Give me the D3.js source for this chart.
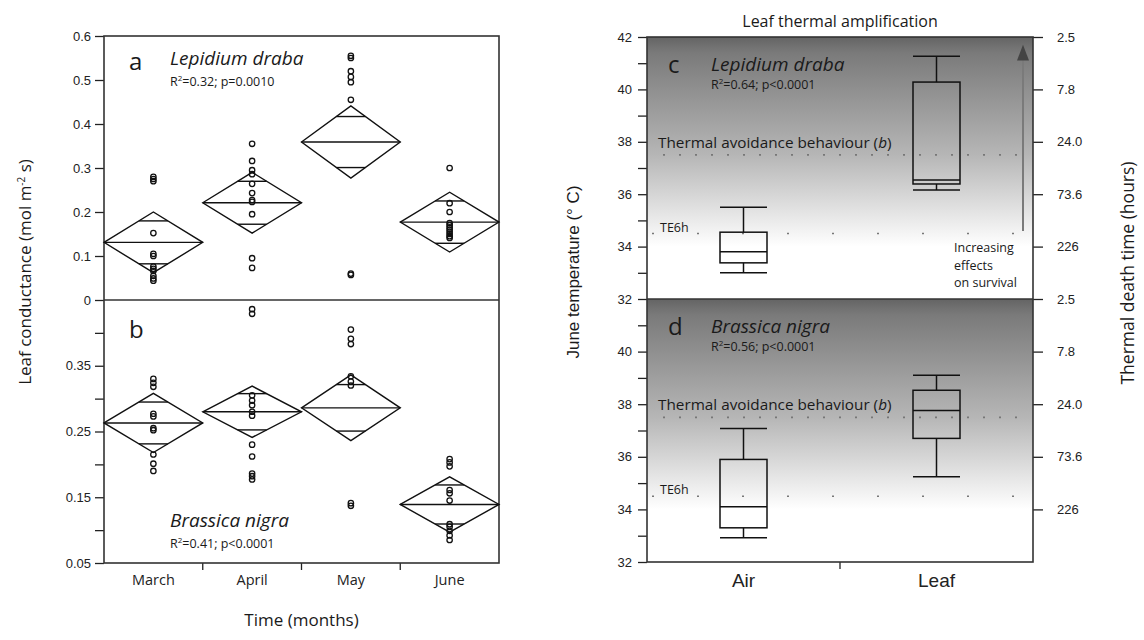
<!DOCTYPE html>
<html lang="en">
<head>
<meta charset="utf-8">
<title>Leaf conductance and leaf thermal amplification</title>
<script src="https://cdnjs.cloudflare.com/ajax/libs/d3/7.8.5/d3.min.js"></script>
<style>
  body { margin: 0; background: #fff; }
  svg { display: block; }
  .tick text { font-family: 'Liberation Sans', Arial, sans-serif; font-size: 13px; fill: #222; }
  .hum { font-family: 'Open Sans', 'Noto Sans', sans-serif; fill: #1a1a1a; }
  .helv { font-family: 'Liberation Sans', Arial, sans-serif; fill: #1a1a1a; }
</style>
</head>
<body>
<svg id="chart"></svg>
<script>
// ---- left panels: leaf conductance by month ----
var months = ["March", "April", "May", "June"];

// panel a, Lepidium draba (means diamonds: mean and 95% CI half width)
var aMean = [0.131, 0.221, 0.359, 0.177];
var aCI   = [0.069, 0.069, 0.082, 0.068];
var aPoints = [
  [0.28, 0.275, 0.27, 0.152, 0.105, 0.1, 0.076, 0.071, 0.066, 0.055, 0.049, 0.044],
  [0.355, 0.316, 0.295, 0.286, 0.264, 0.243, 0.227, 0.223, 0.195, 0.095, 0.073],
  [0.555, 0.55, 0.52, 0.507, 0.495, 0.455, 0.06, 0.057],
  [0.3, 0.22, 0.2, 0.175, 0.17, 0.165, 0.16, 0.155, 0.15, 0.145, 0.141]
];

// panel b, Brassica nigra
var bMean = [0.263, 0.28, 0.286, 0.139];
var bCI   = [0.045, 0.039, 0.05, 0.042];
var bPoints = [
  [0.33, 0.324, 0.318, 0.277, 0.273, 0.255, 0.252, 0.215, 0.201, 0.19],
  [0.436, 0.429, 0.305, 0.297, 0.29, 0.28, 0.274, 0.23, 0.212, 0.186, 0.182, 0.177],
  [0.405, 0.391, 0.383, 0.334, 0.326, 0.32, 0.141, 0.137],
  [0.208, 0.203, 0.197, 0.161, 0.156, 0.145, 0.109, 0.105, 0.099, 0.092, 0.085]
];

var aTicks = [0, 0.1, 0.2, 0.3, 0.4, 0.5, 0.6];
var bTicks = [0.05, 0.1, 0.15, 0.2, 0.25, 0.3, 0.35, 0.4];
var bTickLabels = ["0.05", "", "0.15", "", "0.25", "", "0.35", ""];

// ---- right panels: June temperature boxplots ----
var sources = ["Air", "Leaf"];
// [min, q1, median, q3, max]
var cBoxes = [[33.0, 33.38, 33.8, 34.55, 35.5], [36.16, 36.39, 36.54, 40.28, 41.27]];
var dBoxes = [[32.92, 33.3, 34.1, 35.9, 37.08], [35.24, 36.7, 37.76, 38.53, 39.1]];
var avoidanceTemp = 37.5;
var te6hTemp = 34.5;
var tempTicks = [32, 33, 34, 35, 36, 37, 38, 39, 40, 41, 42];
var deathTemps = [42, 40, 38, 36, 34];
var deathLabels = ["2.5", "7.8", "24.0", "73.6", "226"];

var width = 1144, height = 640;
var svg = d3.select("#chart").attr("width", width).attr("height", height);

// layout
var L = {left: 104, right: 499, top: 36, mid: 300, bottom: 563};
var R = {left: 647, right: 1033, top: 37, mid: 299, bottom: 562};

var xMonth = d3.scaleBand().domain(months).range([L.left, L.right]);
var yA = d3.scaleLinear().domain([0, 0.6]).range([L.mid, L.top]);
var yB = d3.scaleLinear().domain([0.05, 0.45]).range([L.bottom, L.mid]);

var xSrc = d3.scaleBand().domain(sources).range([R.left, R.right]);
var yC = d3.scaleLinear().domain([32, 42]).range([R.mid, R.top]);
var yD = d3.scaleLinear().domain([32, 42]).range([R.bottom, R.mid]);

function drawDiamonds(g, means, cis, points, y) {
  var hb = xMonth.bandwidth() / 2;
  months.forEach(function(m, i) {
    var cx = xMonth(m) + hb, mu = means[i], ci = cis[i];
    var pts = [[cx - hb, y(mu)], [cx, y(mu + ci)], [cx + hb, y(mu)], [cx, y(mu - ci)]];
    g.append("path")
      .attr("d", d3.line()(pts) + "Z")
      .attr("fill", "none").attr("stroke", "#111").attr("stroke-width", 1.4);
    // mean line
    g.append("line")
      .attr("x1", cx - hb).attr("x2", cx + hb)
      .attr("y1", y(mu)).attr("y2", y(mu))
      .attr("stroke", "#111").attr("stroke-width", 1.4);
    // overlap marks
    var d = ci / Math.SQRT2, w = hb * (1 - 1 / Math.SQRT2);
    [mu + d, mu - d].forEach(function(v) {
      g.append("line")
        .attr("x1", cx - w).attr("x2", cx + w)
        .attr("y1", y(v)).attr("y2", y(v))
        .attr("stroke", "#111").attr("stroke-width", 1.4);
    });
    g.selectAll(null)
      .data(points[i])
      .enter()
      .append("circle")
        .attr("cx", cx)
        .attr("cy", d => y(d))
        .attr("r", 2.7)
        .attr("fill", "none")
        .attr("stroke", "#111")
        .attr("stroke-width", 1.3);
  });
}

// ---------- left ----------
var left = svg.append("g");

left.append("g")
  .attr("transform", "translate(" + L.left + ",0)")
  .call(d3.axisLeft(yA).tickValues(aTicks).tickSize(9).tickPadding(4)
        .tickFormat(d => d === 0 ? "0" : d3.format(".1f")(d)));

left.append("g")
  .attr("transform", "translate(" + L.left + ",0)")
  .call(d3.axisLeft(yB).tickValues(bTicks).tickSize(9).tickPadding(4)
        .tickFormat((d, i) => bTickLabels[i]));

left.append("g")
  .attr("transform", "translate(0," + L.bottom + ")")
  .call(d3.axisBottom(xMonth).tickSize(0).tickPadding(12))
  .call(g => g.selectAll(".tick text")
      .attr("class", "hum").style("font-size", "14.5px").style("font-family", "'Open Sans', sans-serif"));

// separators between months on bottom
left.selectAll(".sep")
  .data(months.slice(1))
  .enter()
  .append("line")
    .attr("x1", d => xMonth(d)).attr("x2", d => xMonth(d))
    .attr("y1", L.bottom).attr("y2", L.bottom + 7)
    .attr("stroke", "#222").attr("stroke-width", 1.3);

left.selectAll(".domain").remove();
left.selectAll(".tick line").attr("stroke", "#222").attr("stroke-width", 1.3);

// frame
left.append("rect")
  .attr("x", L.left).attr("y", L.top)
  .attr("width", L.right - L.left).attr("height", L.bottom - L.top)
  .attr("fill", "none").attr("stroke", "#333").attr("stroke-width", 1.6);
left.append("line")
  .attr("x1", L.left).attr("x2", L.right).attr("y1", L.mid).attr("y2", L.mid)
  .attr("stroke", "#333").attr("stroke-width", 1.6);

drawDiamonds(left.append("g"), aMean, aCI, aPoints, yA);
drawDiamonds(left.append("g"), bMean, bCI, bPoints, yB);

// labels
left.append("text").attr("class", "hum").attr("x", 129).attr("y", 70)
  .style("font-size", "24px").text("a");
left.append("text").attr("class", "hum").attr("x", 170).attr("y", 65)
  .style("font-size", "19px").style("font-style", "italic").text("Lepidium draba");
left.append("text").attr("class", "hum").attr("x", 170).attr("y", 86)
  .style("font-size", "12.5px").html("R<tspan dy='-5' font-size='8'>2</tspan><tspan dy='5'>=0.32; p=0.0010</tspan>");

left.append("text").attr("class", "hum").attr("x", 129).attr("y", 338)
  .style("font-size", "24px").text("b");
left.append("text").attr("class", "hum").attr("x", 170).attr("y", 527)
  .style("font-size", "19px").style("font-style", "italic").text("Brassica nigra");
left.append("text").attr("class", "hum").attr("x", 170).attr("y", 548)
  .style("font-size", "12.5px").html("R<tspan dy='-5' font-size='8'>2</tspan><tspan dy='5'>=0.41; p&lt;0.0001</tspan>");

left.append("text").attr("class", "hum")
  .attr("x", (L.left + L.right) / 2).attr("y", 626)
  .attr("text-anchor", "middle").style("font-size", "17px")
  .text("Time (months)");

left.append("text").attr("class", "hum")
  .attr("transform", "translate(31,272) rotate(-90)")
  .attr("text-anchor", "middle").style("font-size", "17px")
  .html("Leaf conductance (mol m<tspan dy='-6' font-size='10'>-2</tspan><tspan dy='6'> s)</tspan>");

// ---------- right ----------
var right = svg.append("g");
var defs = svg.append("defs");
var grad = defs.append("linearGradient").attr("id", "shade")
  .attr("x1", 0).attr("x2", 0).attr("y1", 0).attr("y2", 1);
grad.append("stop").attr("offset", 0).attr("stop-color", "#646464");
grad.append("stop").attr("offset", 0.06).attr("stop-color", "#7a7a7a");
grad.append("stop").attr("offset", 0.45).attr("stop-color", "#b6b6b6");
grad.append("stop").attr("offset", 0.8).attr("stop-color", "#ffffff");
grad.append("stop").attr("offset", 1).attr("stop-color", "#ffffff");

[[R.top, R.mid], [R.mid, R.bottom]].forEach(function(p) {
  right.append("rect")
    .attr("x", R.left).attr("y", p[0])
    .attr("width", R.right - R.left).attr("height", p[1] - p[0])
    .attr("fill", "url(#shade)");
});

// left axes
right.append("g")
  .attr("transform", "translate(" + R.left + ",0)")
  .call(d3.axisLeft(yC).tickValues(tempTicks).tickSize(9).tickPadding(6)
        .tickFormat(d => d % 2 === 0 ? d : ""));
right.append("g")
  .attr("transform", "translate(" + R.left + ",0)")
  .call(d3.axisLeft(yD).tickValues(tempTicks.filter(d => d < 42)).tickSize(9).tickPadding(6)
        .tickFormat(d => d % 2 === 0 ? d : ""));

// right axes (thermal death time)
right.append("g")
  .attr("transform", "translate(" + R.right + ",0)")
  .call(d3.axisRight(yC).tickValues(deathTemps.concat([32])).tickSize(10).tickPadding(14)
        .tickFormat((d, i) => d === 32 ? "2.5" : deathLabels[i]));
right.append("g")
  .attr("transform", "translate(" + R.right + ",0)")
  .call(d3.axisRight(yD).tickValues(deathTemps.slice(1)).tickSize(10).tickPadding(14)
        .tickFormat((d, i) => deathLabels[i + 1]));

right.append("g")
  .attr("transform", "translate(0," + R.bottom + ")")
  .call(d3.axisBottom(xSrc).tickSize(0).tickPadding(12))
  .call(g => g.selectAll(".tick text").style("font-size", "19px"));

right.selectAll(".domain").remove();
right.selectAll(".tick line").attr("stroke", "#222").attr("stroke-width", 1.3);

right.append("line")
  .attr("x1", xSrc("Leaf")).attr("x2", xSrc("Leaf"))
  .attr("y1", R.bottom).attr("y2", R.bottom + 7)
  .attr("stroke", "#222").attr("stroke-width", 1.3);

// frame
right.append("rect")
  .attr("x", R.left).attr("y", R.top)
  .attr("width", R.right - R.left).attr("height", R.bottom - R.top)
  .attr("fill", "none").attr("stroke", "#333").attr("stroke-width", 1.6);
right.append("line")
  .attr("x1", R.left).attr("x2", R.right).attr("y1", R.mid).attr("y2", R.mid)
  .attr("stroke", "#333").attr("stroke-width", 1.6);

function drawPanel(g, boxes, y, letter, species, stat) {
  // threshold lines
  g.append("line")
    .attr("x1", R.left + 16).attr("x2", R.right - 10)
    .attr("y1", y(avoidanceTemp)).attr("y2", y(avoidanceTemp))
    .attr("stroke", "#777").attr("stroke-width", 1.6)
    .attr("stroke-dasharray", "2,14");
  g.append("line")
    .attr("x1", R.left + 5).attr("x2", R.right - 10)
    .attr("y1", y(te6hTemp)).attr("y2", y(te6hTemp))
    .attr("stroke", "#777").attr("stroke-width", 1.6)
    .attr("stroke-dasharray", "2,43");

  g.append("text").attr("class", "hum").attr("x", R.left + 11).attr("y", y(avoidanceTemp) - 7)
    .style("font-size", "15.3px")
    .html("Thermal avoidance behaviour (<tspan font-style='italic'>b</tspan>)");
  g.append("text").attr("class", "hum").attr("x", R.left + 13).attr("y", y(te6hTemp) - 2)
    .style("font-size", "12.5px").text("TE6h");

  var bw = 47;
  boxes.forEach(function(b, i) {
    var cx = xSrc(sources[i]) + xSrc.bandwidth() / 2;
    var bg = g.append("g").attr("stroke", "#111").attr("stroke-width", 1.5).attr("fill", "none");
    bg.append("line").attr("x1", cx).attr("x2", cx).attr("y1", y(b[0])).attr("y2", y(b[1]));
    bg.append("line").attr("x1", cx).attr("x2", cx).attr("y1", y(b[3])).attr("y2", y(b[4]));
    [b[0], b[4]].forEach(function(v) {
      bg.append("line").attr("x1", cx - bw / 2).attr("x2", cx + bw / 2).attr("y1", y(v)).attr("y2", y(v));
    });
    bg.append("rect").attr("x", cx - bw / 2).attr("y", y(b[3]))
      .attr("width", bw).attr("height", y(b[1]) - y(b[3]));
    bg.append("line").attr("x1", cx - bw / 2).attr("x2", cx + bw / 2).attr("y1", y(b[2])).attr("y2", y(b[2]));
  });

  g.append("text").attr("class", "hum").attr("x", 668).attr("y", y(41) + 10)
    .style("font-size", "24px").text(letter);
  g.append("text").attr("class", "hum").attr("x", 711).attr("y", y(41) + 8)
    .style("font-size", "19px").style("font-style", "italic").text(species);
  g.append("text").attr("class", "hum").attr("x", 711).attr("y", y(41) + 26)
    .style("font-size", "12.5px")
    .html("R<tspan dy='-5' font-size='8'>2</tspan><tspan dy='5'>=" + stat + "; p&lt;0.0001</tspan>");
}

drawPanel(right.append("g"), cBoxes, yC, "c", "Lepidium draba", "0.64");
drawPanel(right.append("g"), dBoxes, yD, "d", "Brassica nigra", "0.56");

// arrow: increasing effects on survival
right.append("line")
  .attr("x1", 1023).attr("x2", 1023).attr("y1", yC(34.6)).attr("y2", yC(41.3))
  .attr("stroke", "#7a7a7a").attr("stroke-width", 2);
right.append("path")
  .attr("d", d3.line()([[1017, yC(41.1)], [1023, yC(41.7)], [1029, yC(41.1)]]) + "Z")
  .attr("fill", "#444");
var note = right.append("text").attr("class", "hum").attr("x", 954).attr("y", 252)
  .style("font-size", "12.5px");
["Increasing", "effects", "on survival"].forEach(function(t, i) {
  note.append("tspan").attr("x", 954).attr("dy", i === 0 ? 0 : 17.5).text(t);
});

right.append("text").attr("class", "hum")
  .attr("x", (R.left + R.right) / 2).attr("y", 27)
  .attr("text-anchor", "middle").style("font-size", "16px")
  .text("Leaf thermal amplification");

right.append("text").attr("class", "helv")
  .attr("transform", "translate(579,272) rotate(-90)")
  .attr("text-anchor", "middle").style("font-size", "17px")
  .text("June temperature (\u00B0 C)");

right.append("text").attr("class", "hum")
  .attr("transform", "translate(1134,273) rotate(-90)")
  .attr("text-anchor", "middle").style("font-size", "17.5px")
  .text("Thermal death time (hours)");
</script>
</body>
</html>
